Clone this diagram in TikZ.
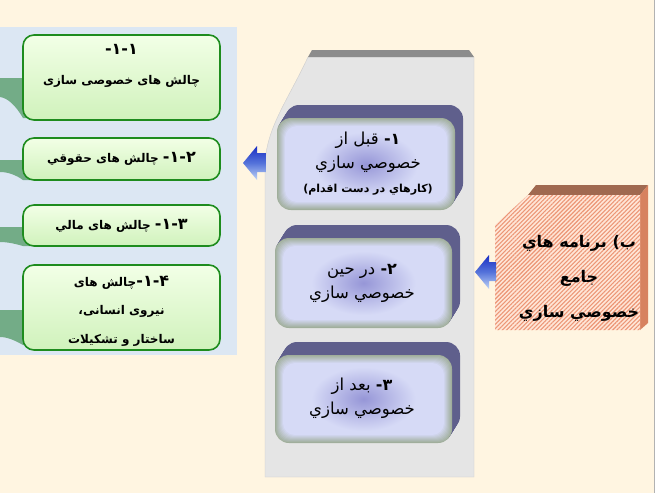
\documentclass[tikz,border=0pt]{standalone}
\usepackage{fontspec}
\newfontfamily\af[Script=Arabic]{DejaVu Sans}
\newfontfamily\lf{DejaVu Sans}
\TeXXeTstate=1
\usetikzlibrary{patterns.meta,shadings}
\definecolor{bgcream}{RGB}{255,245,225}
\definecolor{bluepanel}{RGB}{220,231,243}
\definecolor{wedgecol}{RGB}{115,172,135}
\definecolor{gborder}{RGB}{30,140,30}
\definecolor{gtop}{RGB}{242,255,230}
\definecolor{gbot}{RGB}{208,242,188}
\definecolor{grayfront}{RGB}{229,229,229}
\definecolor{grayedge}{RGB}{205,205,205}
\definecolor{graytop}{RGB}{140,140,140}
\definecolor{pshadow}{RGB}{95,95,140}
\definecolor{pedge}{RGB}{160,174,155}
\definecolor{pin}{RGB}{214,218,246}
\definecolor{pglow}{RGB}{150,150,215}
\definecolor{stop}{RGB}{160,105,80}
\definecolor{sright}{RGB}{215,130,95}
\definecolor{sfront}{RGB}{255,230,215}
\definecolor{slines}{RGB}{236,150,118}
\definecolor{atop}{RGB}{25,45,195}
\definecolor{amid}{RGB}{85,115,218}
\definecolor{abot}{RGB}{192,212,246}
\tikzset{
  gbox/.style={draw=gborder, line width=1.6pt, rounded corners=11pt,
    top color=gtop, bottom color=gbot, inner sep=0pt},
  gtext/.style={align=center, inner sep=0pt, font=\af\bfseries\fontsize{12}{30}\selectfont},
  ptext/.style={align=center, font=\af\fontsize{16.5}{24}\selectfont},
  stext/.style={align=center, font=\af\bfseries\fontsize{16}{35}\selectfont},
  wedge/.style={fill=wedgecol},
  blockarrow/.style={top color=atop, bottom color=abot, middle color=amid},
}
\newcommand\pbx[4]{%
  \foreach \s in {1,...,13}{\fill[pshadow,rounded corners=14pt] ({#1+\s*0.62},{#2-\s}) rectangle ({#3+\s*0.62},{#4-\s});}
  \fill[pedge, rounded corners=14pt] (#1,#2) rectangle (#3,#4);
  \foreach \i in {1,...,8}{\pgfmathsetmacro\pp{\i*12.5}\fill[pin!\pp!pedge, rounded corners=12pt] ({#1+\i},{#2+\i}) rectangle ({#3-\i},{#4-\i});}
  \shade[inner color=pglow, outer color=pin] ({(#1+#3)/2},{(#2+#4)/2}) ellipse (52pt and 32pt);
}
\newcommand\dg[1]{{\lf\bfseries\fontsize{16}{16}\selectfont #1}}
\begin{document}
\begin{tikzpicture}[x=1pt,y=-1pt]
\useasboundingbox (0,0) rectangle (655,493);
\fill[bgcream] (0,0) rectangle (655,493);
\draw[gray!60, line width=1pt] (654,0) -- (654,493);
% left blue panel
\fill[bluepanel] (0,27) rectangle (237,355);
% green wedges
\fill[wedge] (0,78) -- (30,78) -- (30,118) -- (23,118) .. controls (16,106) and (8,98) .. (0,97) -- cycle;
\fill[wedge] (0,160) -- (30,160) -- (30,180) -- (23,180) .. controls (16,175) and (8,172) .. (0,172) -- cycle;
\fill[wedge] (0,227) -- (30,227) -- (30,246) -- (23,246) .. controls (16,244) and (8,242) .. (0,242) -- cycle;
\fill[wedge] (0,310) -- (30,310) -- (30,345) -- (23,345) .. controls (16,341) and (8,337) .. (0,337) -- cycle;
% green boxes
\node[gbox, minimum width=197pt, minimum height=85pt] (g1) at (121.5,77.5) {};
\node[gtext] (g1t) at (121.5,66) {\dg{-۱-۱}\\ \beginR چالش های خصوصی سازی\endR};
\node[gbox, minimum width=197pt, minimum height=42pt] (g2) at (121.5,159) {};
\node[gtext] (g2t) at (121.5,159) {\beginR چالش های حقوقي\endR\ \dg{-۱-۲}};
\node[gbox, minimum width=197pt, minimum height=41pt] (g3) at (121.5,225.5) {};
\node[gtext] (g3t) at (121.5,225.5) {\beginR چالش های مالي\endR\ \dg{-۱-۳}};
\node[gbox, minimum width=197pt, minimum height=85pt] (g4) at (121.5,307.5) {};
\node[gtext, font=\af\bfseries\fontsize{12}{28.5}\selectfont] (g4t) at (121.5,311)
  {\beginR چالش های\endR\dg{-۱-۴}\\ \beginR نیروی انسانی،\endR\\ \beginR ساختار و تشکیلات\endR};
% gray panel
\fill[grayfront, draw=grayedge] (265,477) -- (265,165) .. controls (266,128) and (288,100) .. (308,57) -- (474,57) -- (474,477) -- cycle;
\fill[graytop] (308,57) -- (312,50) -- (469,50) -- (474,57) -- cycle;
% purple boxes
\pbx{277}{118}{455}{210}
\pbx{275}{238}{452}{328}
\pbx{275}{355}{452}{443}
\node[ptext] (p1) at (368,164)
  {\beginR قبل از\endR\ \dg{-۱}\\ \beginR خصوصي سازي\endR\\
   {\bfseries\fontsize{11}{11}\selectfont\lf(\af\beginR كارهاي در دست اقدام\endR\lf)}};
\node[ptext] (p2) at (362,283) {\beginR در حين\endR\ \dg{-۲}\\ \beginR خصوصي سازي\endR};
\node[ptext] (p3) at (362,398) {\beginR بعد از\endR\ \dg{-۳}\\ \beginR خصوصي سازي\endR};
% salmon box
\fill[stop] (528,195) -- (536,185) -- (648,185) -- (640,195) -- cycle;
\fill[sright] (640,195) -- (648,185) -- (648,323) -- (640,330) -- cycle;
\fill[sfront] (495,330) -- (495,225) -- (528,195) -- (640,195) -- (640,330) -- cycle;
\fill[pattern={Lines[angle=45,distance=3pt,line width=1.1pt]}, pattern color=slines]
  (495,330) -- (495,225) -- (528,195) -- (640,195) -- (640,330) -- cycle;
\node[stext] (s1) at (579,278) {\beginR برنامه هاي\endR\ \hbox{\lf(}\hbox{ب}\\ جامع\\ \beginR خصوصي سازي\endR};
% block arrows
\shade[blockarrow] (243,163) -- (257,146) -- (257,153) -- (266,153) -- (266,172) -- (257,172) -- (257,180) -- cycle;
\shade[blockarrow] (475,272) -- (489,255) -- (489,262) -- (496,262) -- (496,281) -- (489,281) -- (489,289) -- cycle;
\end{tikzpicture}
\end{document}
